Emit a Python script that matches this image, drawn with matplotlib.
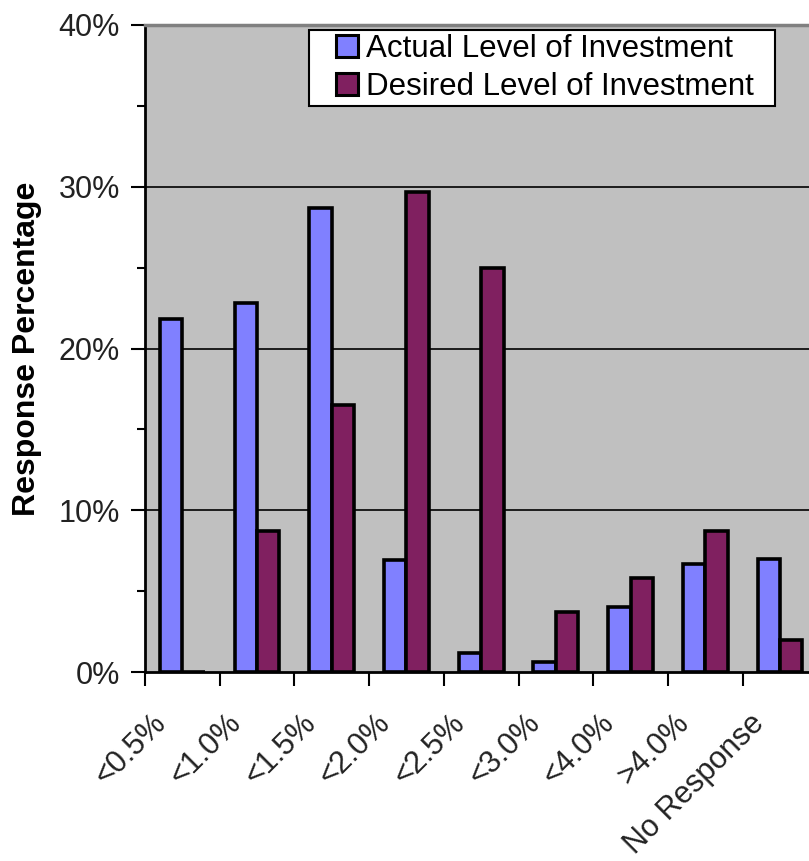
import numpy as np
import matplotlib.pyplot as plt
from matplotlib.ticker import MultipleLocator, FuncFormatter
from matplotlib.patches import Rectangle
from matplotlib.legend_handler import HandlerPatch
import matplotlib.transforms as mtransforms

categories = ['<0.5%', '<1.0%', '<1.5%', '<2.0%', '<2.5%', '<3.0%', '<4.0%', '>4.0%', 'No Response']
actual = [21.8, 22.8, 28.7, 6.9, 1.2, 0.6, 4.0, 6.7, 7.0]
desired = [0.0, 8.7, 16.5, 29.7, 25.0, 3.7, 5.8, 8.7, 2.0]
series_names = ['Actual Level of Investment', 'Desired Level of Investment']

plt.rcParams['font.family'] = ['Liberation Sans', 'DejaVu Sans']

fig = plt.figure(figsize=(8.09, 8.61), dpi=100)
W, H = 809, 861
ax_w = 9 * 74.7
ax = fig.add_axes([145 / W, 1 - 672 / H, ax_w / W, (672 - 25) / H])
ax.set_facecolor('#C0C0C0')

x = np.arange(len(categories)) + 0.5
w = 0.3
b1 = ax.bar(x - w / 2, actual, w, color='#8080FF', edgecolor='black', linewidth=2.6,
            label=series_names[0], zorder=3)
b2 = ax.bar(x + w / 2, desired, w, color='#802060', edgecolor='black', linewidth=2.6,
            label=series_names[1], zorder=3)

ax.set_xlim(0, len(categories))
ax.set_ylim(0, 40)

# y axis
ax.yaxis.set_major_locator(MultipleLocator(10))
ax.yaxis.set_minor_locator(MultipleLocator(5))
ax.yaxis.set_major_formatter(FuncFormatter(lambda v, p: '%d%%' % v))
ax.tick_params(axis='y', which='major', direction='out', length=10, width=1.5,
               labelsize=22, pad=8, colors='black', labelcolor='#222222')
ax.tick_params(axis='y', which='minor', direction='out', length=6, width=1.5)
for yv in [10, 20, 30]:
    ax.axhline(yv, color='black', linewidth=1.2, zorder=1)

# x axis: ticks at boundaries, labels at centers
ax.set_xticks(np.arange(len(categories) + 1))
ax.set_xticklabels([])
ax.tick_params(axis='x', which='major', direction='out', length=10, width=1.5)
ax.set_xticks(x, minor=True)
ax.set_xticklabels(categories, minor=True, rotation=45, ha='right', va='top',
                   fontsize=22, color='#222222')
ax.tick_params(axis='x', which='minor', length=0, pad=26)
offset = mtransforms.ScaledTranslation(-10 / 100, 0, fig.dpi_scale_trans)
for lab in ax.xaxis.get_minorticklabels():
    lab.set_transform(lab.get_transform() + offset)

for side in ['left', 'bottom']:
    ax.spines[side].set_linewidth(2)
    ax.spines[side].set_color('black')
ax.spines['top'].set_color('#808080')
ax.spines['top'].set_linewidth(2.5)
ax.spines['right'].set_visible(False)

ax.set_ylabel('Response Percentage', fontsize=23, fontweight='bold')
ax.yaxis.set_label_coords(-103 / ax_w, 0.5)

leg = ax.legend(handles=[b1[0], b2[0]], labels=[s + '  ' for s in series_names],
                loc='upper left', bbox_to_anchor=(309 / W, 1 - 30 / H),
                bbox_transform=fig.transFigure, borderaxespad=0, fontsize=22.5,
                frameon=True, fancybox=False, edgecolor='black', framealpha=1,
                handlelength=1.45, handleheight=0.7, handletextpad=0.25,
                borderpad=0.12, labelspacing=0.26,
                handler_map={Rectangle: HandlerPatch(xpad=0.73)})
leg.get_frame().set_linewidth(1.5)
for h in leg.legend_handles:
    h.set_linewidth(2.2)

fig.savefig('out.png', dpi=100)
